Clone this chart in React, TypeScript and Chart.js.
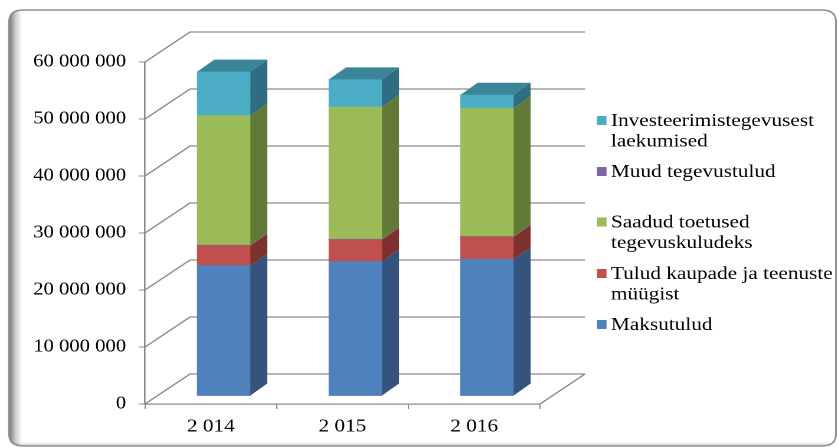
import React, { useEffect, useRef } from "react";
import { Chart, registerables } from "chart.js";

Chart.register(...registerables);

// ---------- data ----------
const categories = ["2 014", "2 015", "2 016"];
const maksutulud = [22900000, 23600000, 24000000];
const tuludKaupadeJaTeenusteMyygist = [3450000, 3800000, 3900000];
const muudTegevustulud = [100000, 100000, 100000];
const saadudToetusedTegevuskuludeks = [22750000, 23200000, 22500000];
const investeerimistegevusestLaekumised = [7700000, 4850000, 2350000];

const yMin = 0;
const yMax = 60000000;
const yStep = 10000000;

const seriesLabels = [
  "Maksutulud",
  "Tulud kaupade ja teenuste müügist",
  "Muud tegevustulud",
  "Saadud toetused tegevuskuludeks",
  "Investeerimistegevusest laekumised",
];
const legendLines = [
  ["Investeerimistegevusest", "laekumised"],
  ["Muud tegevustulud"],
  ["Saadud toetused", "tegevuskuludeks"],
  ["Tulud kaupade ja teenuste", "müügist"],
  ["Maksutulud"],
];

// ---------- styling ----------
const COLORS = [
  { front: "#4F81BD", side: "#34547E", top: "#4471A8" },
  { front: "#C0504D", side: "#7E302E", top: "#A8403D" },
  { front: "#8064A2", side: "#584575", top: "#6F5790" },
  { front: "#9BBB59", side: "#637A37", top: "#86A24A" },
  { front: "#4BACC6", side: "#2F6E80", top: "#3A8599" },
];
const LEGEND_COLORS = [COLORS[4].front, COLORS[2].front, COLORS[3].front, COLORS[1].front, COLORS[0].front];

const S = 838 / 710; // horizontal stretch of the original picture
const W = 710;
const H = 448;
const cx = (sx: number) => sx / S;

const AREA_LEFT = cx(145);
const AREA_RIGHT = cx(540);
const AREA_TOP = 62;
const AREA_BOTTOM = 404;
const WALL_DX = cx(45);
const WALL_DY = -30;
const BAR_DX = cx(13);
const BAR_DY = -8;
const SIDE_DX = cx(17);
const SIDE_DY = -12;
const BAR_W = cx(53);
const GRID = "#8a8a8a";
const FONT = "'Liberation Serif', 'Times New Roman', serif";

const fmt = (v: number) => String(Math.round(v)).replace(/\B(?=(\d{3})+(?!\d))/g, " ");

function roundRectPath(ctx: CanvasRenderingContext2D, x0: number, y0: number, x1: number, y1: number, r: number) {
  ctx.beginPath();
  ctx.moveTo(x0 + r, y0);
  ctx.lineTo(x1 - r, y0);
  ctx.quadraticCurveTo(x1, y0, x1, y0 + r);
  ctx.lineTo(x1, y1 - r);
  ctx.quadraticCurveTo(x1, y1, x1 - r, y1);
  ctx.lineTo(x0 + r, y1);
  ctx.quadraticCurveTo(x0, y1, x0, y1 - r);
  ctx.lineTo(x0, y0 + r);
  ctx.quadraticCurveTo(x0, y0, x0 + r, y0);
  ctx.closePath();
}

const threeDPlugin = {
  id: "threeD",
  beforeDraw(chart: any) {
    const ctx = chart.ctx as CanvasRenderingContext2D;
    const x0 = cx(9), y0 = 10, x1 = cx(836), y1 = 446;
    ctx.save();
    roundRectPath(ctx, x0, y0, x1, y1, 12);
    ctx.fillStyle = "#ffffff";
    ctx.fill();
    ctx.clip();
    const g = ctx.createLinearGradient(x0, 0, x0 + cx(13), 0);
    g.addColorStop(0, "rgba(0,0,0,0.55)");
    g.addColorStop(0.5, "rgba(0,0,0,0.2)");
    g.addColorStop(1, "rgba(0,0,0,0)");
    ctx.fillStyle = g;
    ctx.fillRect(x0, y0, cx(13), y1 - y0);
    const gb = ctx.createLinearGradient(0, y1, 0, y1 - 4);
    gb.addColorStop(0, "rgba(0,0,0,0.2)");
    gb.addColorStop(1, "rgba(0,0,0,0)");
    ctx.fillStyle = gb;
    ctx.fillRect(x0, y1 - 4, x1 - x0, 4);
    ctx.restore();
    ctx.save();
    roundRectPath(ctx, x0, y0, x1, y1, 12);
    ctx.strokeStyle = "#8f8f8f";
    ctx.lineWidth = 1.5;
    ctx.stroke();
    ctx.restore();
  },
  beforeDatasetsDraw(chart: any) {
    const ctx = chart.ctx as CanvasRenderingContext2D;
    const { left, right, bottom } = chart.chartArea;
    const yS = chart.scales.y;
    ctx.save();
    ctx.strokeStyle = GRID;
    ctx.lineWidth = 1.3;
    for (let v = yMin; v <= yMax; v += yStep) {
      const y = yS.getPixelForValue(v);
      ctx.beginPath();
      ctx.moveTo(left, y);
      ctx.lineTo(left + WALL_DX, y + WALL_DY);
      ctx.lineTo(right + WALL_DX, y + WALL_DY);
      ctx.stroke();
    }
    ctx.beginPath();
    ctx.moveTo(right, bottom);
    ctx.lineTo(right + WALL_DX, bottom + WALL_DY);
    ctx.stroke();
    ctx.restore();
    ctx.save();
    ctx.translate(BAR_DX, BAR_DY);
  },
  afterDatasetsDraw(chart: any) {
    const ctx = chart.ctx as CanvasRenderingContext2D;
    const n = chart.data.labels.length;
    for (let i = 0; i < n; i++) {
      let topIdx = -1;
      chart.data.datasets.forEach((ds: any, d: number) => {
        const el = chart.getDatasetMeta(d).data[i];
        if (!el) return;
        const { x, y, base, width } = el.getProps(["x", "y", "base", "width"], true);
        const r = x + width / 2;
        ctx.fillStyle = COLORS[d].side;
        ctx.beginPath();
        ctx.moveTo(r, y);
        ctx.lineTo(r + SIDE_DX, y + SIDE_DY);
        ctx.lineTo(r + SIDE_DX, base + SIDE_DY);
        ctx.lineTo(r, base);
        ctx.closePath();
        ctx.fill();
        if (ds.data[i] > 0) topIdx = d;
      });
      if (topIdx >= 0) {
        const el = chart.getDatasetMeta(topIdx).data[i];
        const { x, y, width } = el.getProps(["x", "y", "width"], true);
        const l = x - width / 2;
        const r = x + width / 2;
        ctx.fillStyle = COLORS[topIdx].top;
        ctx.beginPath();
        ctx.moveTo(l, y);
        ctx.lineTo(r, y);
        ctx.lineTo(r + SIDE_DX, y + SIDE_DY);
        ctx.lineTo(l + SIDE_DX, y + SIDE_DY);
        ctx.closePath();
        ctx.fill();
      }
    }
    ctx.restore();
  },
  afterDraw(chart: any) {
    const ctx = chart.ctx as CanvasRenderingContext2D;
    const baselines = [126, 177, 227.5, 279, 330];
    ctx.save();
    ctx.font = `18px ${FONT}`;
    ctx.textBaseline = "alphabetic";
    ctx.textAlign = "left";
    legendLines.forEach((lines, k) => {
      const b = baselines[k];
      ctx.fillStyle = LEGEND_COLORS[k];
      ctx.fillRect(cx(597), b - 10, cx(9.5), 9);
      ctx.fillStyle = "#000000";
      lines.forEach((t, j) => ctx.fillText(t, cx(611), b + j * 20.5));
    });
    ctx.restore();
  },
};

export default function App() {
  const ref = useRef<HTMLCanvasElement | null>(null);
  useEffect(() => {
    if (!ref.current) return;
    const seriesData = [
      maksutulud,
      tuludKaupadeJaTeenusteMyygist,
      muudTegevustulud,
      saadudToetusedTegevuskuludeks,
      investeerimistegevusestLaekumised,
    ];
    const chart = new Chart(ref.current, {
      type: "bar",
      data: {
        labels: categories,
        datasets: seriesData.map((d, i) => ({
          label: seriesLabels[i],
          data: d,
          backgroundColor: COLORS[i].front,
          borderWidth: 0,
          barThickness: BAR_W,
          clip: false as any,
        })),
      },
      options: {
        animation: false,
        responsive: false,
        devicePixelRatio: 2,
        layout: { padding: { left: 0, top: AREA_TOP, right: W - AREA_RIGHT, bottom: 0 } },
        plugins: { legend: { display: false }, tooltip: { enabled: false } },
        scales: {
          x: {
            stacked: true,
            grid: { drawOnChartArea: false, drawTicks: true, tickLength: 5, color: GRID, offset: true },
            border: { display: true, color: GRID, width: 1.3 },
            ticks: { color: "#000", padding: 7, font: { family: FONT, size: 18 } },
            afterFit: (s: any) => { s.height = H - AREA_BOTTOM; },
          },
          y: {
            stacked: true,
            min: yMin,
            max: yMax,
            grid: { drawOnChartArea: false, drawTicks: true, tickLength: 5, color: GRID },
            border: { display: true, color: GRID, width: 1.3 },
            ticks: {
              stepSize: yStep,
              color: "#000",
              padding: 11,
              font: { family: FONT, size: 17.5 },
              callback: (v: any) => fmt(Number(v)),
            },
            afterFit: (s: any) => { s.width = AREA_LEFT; },
          },
        },
      },
      plugins: [threeDPlugin],
    });
    return () => chart.destroy();
  }, []);
  return (
    <div
      style={{
        position: "absolute",
        left: 0,
        top: 0,
        width: W,
        height: H,
        transform: `scaleX(${S})`,
        transformOrigin: "0 0",
      }}
    >
      <canvas ref={ref} width={W} height={H} style={{ display: "block", width: W, height: H }} />
    </div>
  );
}
